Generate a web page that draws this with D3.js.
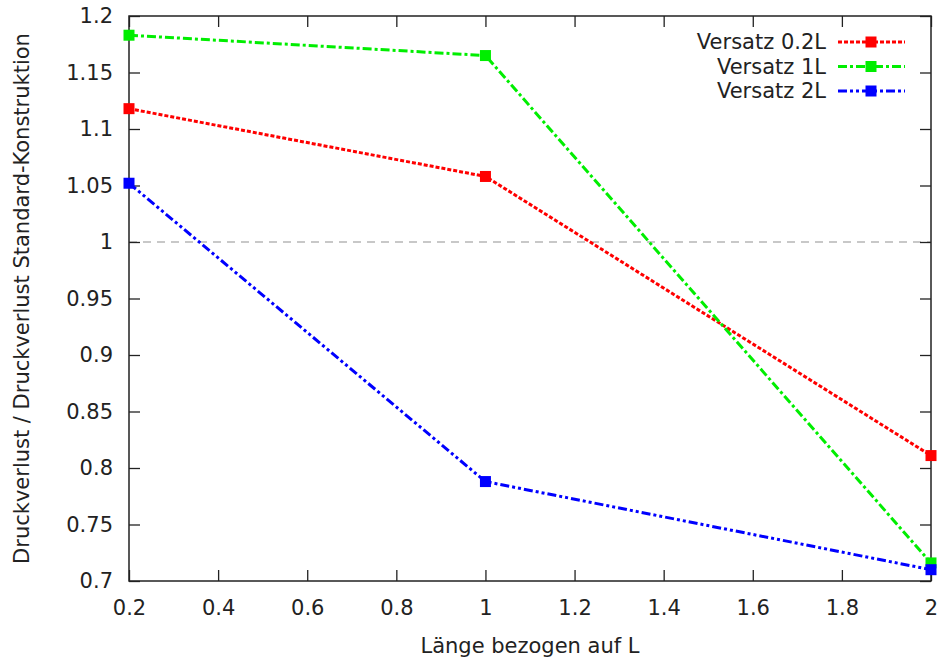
<!doctype html>
<html lang="de">
<head>
<meta charset="utf-8">
<title>Druckverlust</title>
<script src="https://cdn.jsdelivr.net/npm/d3@7"></script>
<style>
  body { margin: 0; background: #fff; }
  text { font-family: "DejaVu Sans", sans-serif; fill: #222; }
</style>
</head>
<body>
<svg id="chart" width="943" height="661"></svg>
<script>
// values
var xVals = [0.2, 1, 2];
var red = [1.118, 1.058, 0.811];
var green = [1.183, 1.165, 0.716];
var blue = [1.052, 0.788, 0.710];
var seriesNames = ["Versatz 0.2L", "Versatz 1L", "Versatz 2L"];
var xTicks = [0.2, 0.4, 0.6, 0.8, 1, 1.2, 1.4, 1.6, 1.8, 2];
var yTicks = [0.7, 0.75, 0.8, 0.85, 0.9, 0.95, 1, 1.05, 1.1, 1.15, 1.2];

var pLeft = 129, pRight = 931, pTop = 16, pBottom = 581;
var fontSize = "21px";

var svg = d3.select("#chart");

var x = d3.scaleLinear().domain([0.2, 2]).range([pLeft, pRight]);
var y = d3.scaleLinear().domain([0.7, 1.2]).range([pBottom, pTop]);

var fmt = function(d) { return String(+d.toFixed(2)); };

// reference line at 1
svg.append("line")
  .attr("x1", pLeft).attr("x2", pRight)
  .attr("y1", y(1)).attr("y2", y(1))
  .style("stroke", "#c8c8c8")
  .style("stroke-width", 2)
  .style("stroke-dasharray", "8,6");

// axes, ticks pointing inward, mirrored
var tick = 11;
svg.append("g").attr("class", "ax").attr("transform", "translate(0," + pBottom + ")")
  .call(d3.axisBottom(x).tickValues(xTicks).tickFormat(fmt).tickSizeInner(-tick).tickSizeOuter(0).tickPadding(19));
svg.append("g").attr("class", "ax").attr("transform", "translate(0," + pTop + ")")
  .call(d3.axisTop(x).tickValues(xTicks).tickFormat("").tickSizeInner(-tick).tickSizeOuter(0));
svg.append("g").attr("class", "ax").attr("transform", "translate(" + pLeft + ",0)")
  .call(d3.axisLeft(y).tickValues(yTicks).tickFormat(fmt).tickSizeInner(-tick).tickSizeOuter(0).tickPadding(16));
svg.append("g").attr("class", "ax").attr("transform", "translate(" + pRight + ",0)")
  .call(d3.axisRight(y).tickValues(yTicks).tickFormat("").tickSizeInner(-tick).tickSizeOuter(0));

svg.selectAll(".ax path").remove();
svg.selectAll(".ax line").style("stroke", "#222").style("stroke-width", 1.3);
svg.selectAll(".ax text").style("font-size", fontSize).style("fill", "#222");

// frame
svg.append("rect")
  .attr("x", pLeft).attr("y", pTop)
  .attr("width", pRight - pLeft).attr("height", pBottom - pTop)
  .style("fill", "none").style("stroke", "#222").style("stroke-width", 1.5);

var series = [
  { name: seriesNames[0], values: red, color: "#ff0000", dash: "4,2" },
  { name: seriesNames[1], values: green, color: "#00ee00", dash: "9,3,3,3" },
  { name: seriesNames[2], values: blue, color: "#0000ff", dash: "9,3,3,3,3,3" }
];

var line = d3.line()
  .x(function(d, i) { return x(xVals[i]); })
  .y(function(d) { return y(d); });

var ms = 11;
series.forEach(function(s) {
  svg.append("path")
    .datum(s.values)
    .attr("d", line)
    .style("fill", "none")
    .style("stroke", s.color)
    .style("stroke-width", 3)
    .style("stroke-dasharray", s.dash);

  svg.selectAll(null)
    .data(s.values)
    .enter().append("rect")
    .attr("x", function(d, i) { return x(xVals[i]) - ms / 2; })
    .attr("y", function(d) { return y(d) - ms / 2; })
    .attr("width", ms).attr("height", ms)
    .style("fill", s.color);
});

// legend
series.forEach(function(s, i) {
  var ly = 42 + i * 24.5;
  svg.append("text")
    .attr("x", 826).attr("y", ly).attr("dy", "0.35em")
    .attr("text-anchor", "end")
    .style("font-size", fontSize)
    .text(s.name);
  svg.append("line")
    .attr("x1", 838).attr("x2", 905)
    .attr("y1", ly).attr("y2", ly)
    .style("stroke", s.color)
    .style("stroke-width", 3)
    .style("stroke-dasharray", s.dash);
  svg.append("rect")
    .attr("x", 871 - ms / 2).attr("y", ly - ms / 2)
    .attr("width", ms).attr("height", ms)
    .style("fill", s.color);
});

// axis titles
svg.append("text")
  .attr("x", (pLeft + pRight) / 2).attr("y", 653)
  .attr("text-anchor", "middle")
  .style("font-size", fontSize)
  .text("Länge bezogen auf L");

svg.append("text")
  .attr("transform", "translate(29," + (pTop + pBottom) / 2 + ") rotate(-90)")
  .attr("text-anchor", "middle")
  .style("font-size", fontSize)
  .text("Druckverlust / Druckverlust Standard-Konstruktion");
</script>
</body>
</html>
